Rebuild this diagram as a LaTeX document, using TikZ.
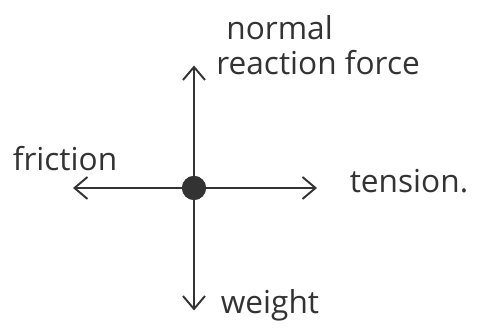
\documentclass[tikz,border=0pt]{standalone}
\usepackage{fontspec}
\setmainfont{Open Sans}
\usepackage{xcolor}
\usetikzlibrary{arrows.meta,positioning}

\definecolor{pencil}{HTML}{333333}

\begin{document}
\begin{tikzpicture}[
    force/.style={draw=pencil, line width=1.1pt, -{Straight Barb[length=2.6mm,width=4.4mm,line width=1.1pt]}},
    body/.style={circle, fill=pencil, inner sep=0pt, minimum size=0.48cm},
    label/.style={text=pencil, font=\fontsize{18}{20}\selectfont, inner sep=0pt}
]
\useasboundingbox (-3.88,-2.92) rectangle (5.72,3.76);

% Body
\node[body] (b) at (0,0) {};

% Arrow ends
\coordinate (up) at (0,2.45);
\coordinate (dn) at (0,-2.45);
\coordinate (lf) at (-2.42,0);
\coordinate (rt) at (2.46,0);

% Forces
\draw[force] (b.center) -- (up);
\draw[force] (b.center) -- (dn);
\draw[force] (b.center) -- (lf);
\draw[force] (b.center) -- (rt);
\node[body] at (b) {};

% Labels
\node[label, align=left, anchor=west] (nr) at (0.44,2.86) {\hspace{0.2cm}normal\\reaction force};
\node[label] (fr) at (-2.58,0.58) {friction};
\node[label] (te) at (4.3,0.14) {tension.};
\node[label] (we) at (1.52,-2.34) {weight};

\end{tikzpicture}
\end{document}
